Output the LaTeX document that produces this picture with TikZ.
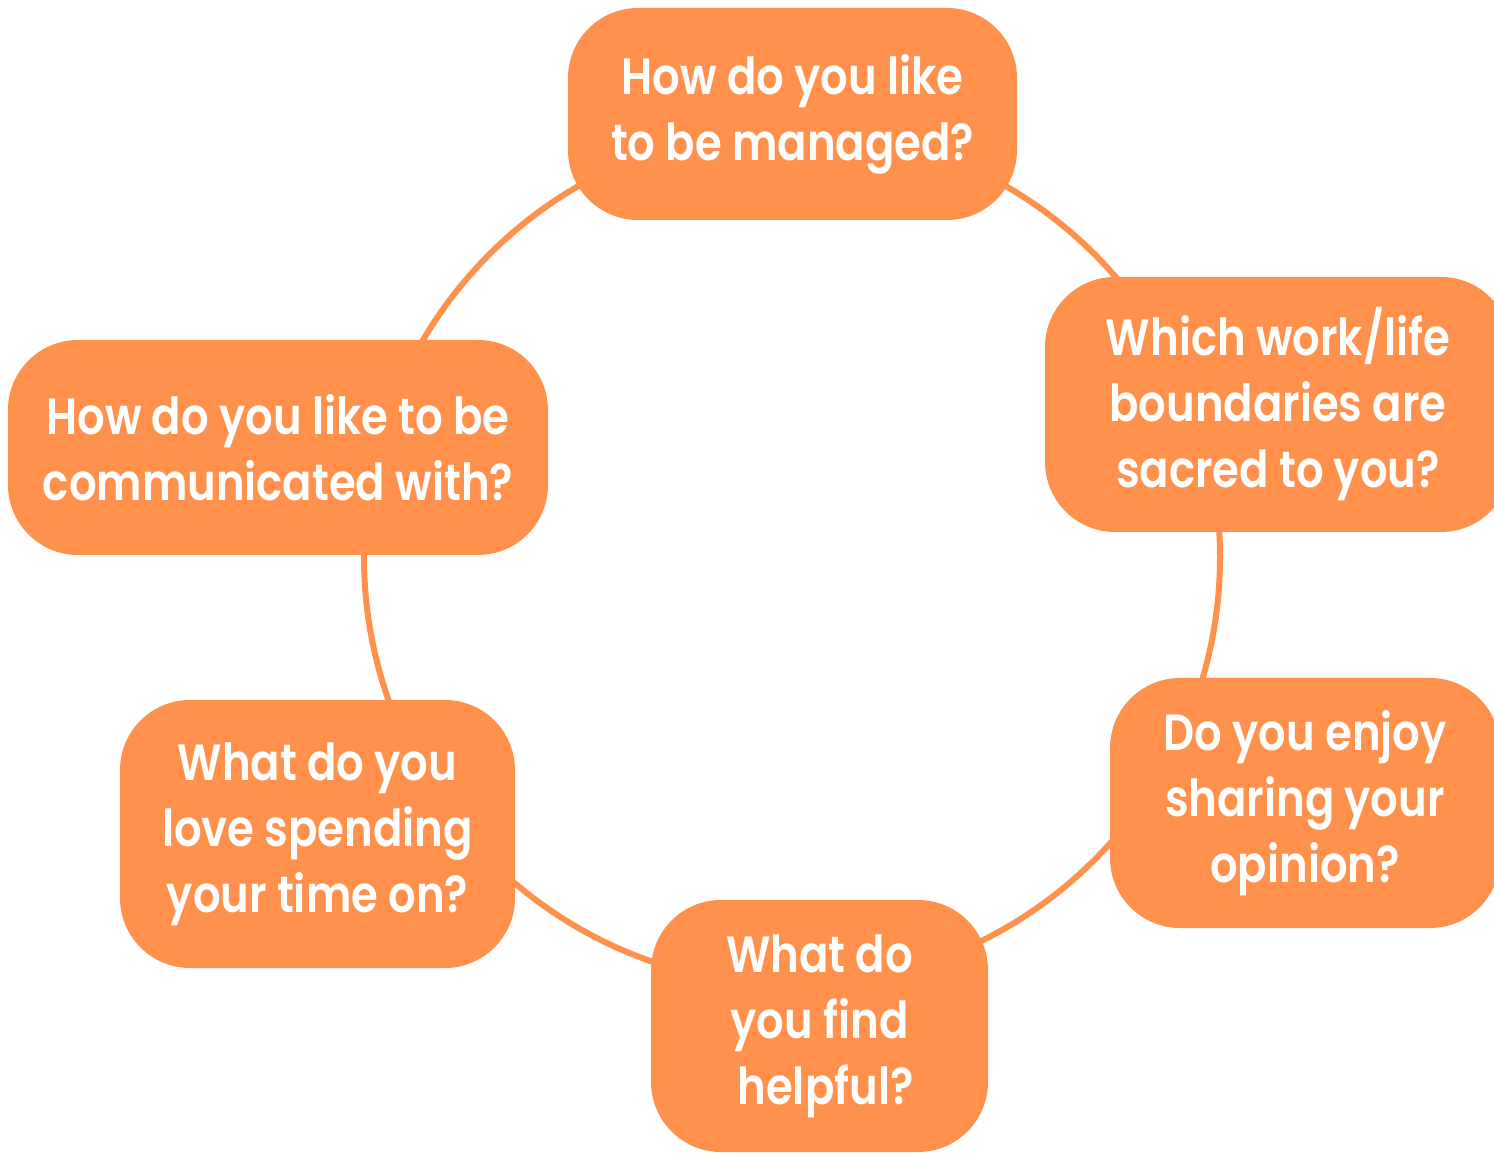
\documentclass[tikz,border=0pt]{standalone}
\usepackage{fontspec}
\setmainfont{Poppins}[UprightFont=* SemiBold, FakeStretch=0.85]
\usepackage{tikz}
\usetikzlibrary{positioning}
\definecolor{qorange}{HTML}{FF914D}

\begin{document}
\begin{tikzpicture}[x=0.5pt, y=-0.5pt,
    question/.style={fill=qorange, text=white, rounded corners=35pt,
        align=center, inner sep=0pt, font=\fontsize{25.5}{33}\selectfont},
    ring/.style={draw=qorange, line width=3pt}]

\useasboundingbox (0,0) rectangle (1494,1154);

% Centre of the ring
\coordinate (hub) at (792,557);

% The ring goes first so that the boxes sit on top of it
\draw[ring] (hub) circle (214pt);

% Questions, clockwise from the top
\node[question, minimum width=224.5pt, minimum height=106pt] (managed) at (792.5,114)
    {How do you like\\to be managed?};
\node[question, minimum width=233pt, minimum height=127.5pt] (boundaries) at (1278,404.5)
    {Which work/life\\boundaries are\\sacred to you?};
\node[question, minimum width=195pt, minimum height=125pt] (opinion) at (1305,803)
    {Do you enjoy\\sharing your\\opinion?};
\node[question, minimum width=168.5pt, minimum height=126pt] (helpful) at (819.5,1026)
    {What do\\you find\\\hspace{6pt}helpful?};
\node[question, minimum width=197.5pt, minimum height=134pt] (timeon) at (317.5,834)
    {What do you\\love spending\\your time on?};
\node[question, minimum width=270pt, minimum height=107.5pt] (communicated) at (278,447.5)
    {How do you like to be\\communicated with?};

\end{tikzpicture}
\end{document}
